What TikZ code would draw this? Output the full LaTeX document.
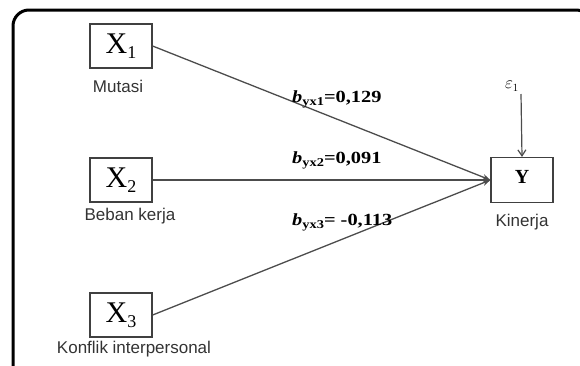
\documentclass[tikz,border=0pt]{standalone}
\usepackage{fontspec}
\setmainfont{Liberation Serif}
\newfontfamily\capfont{Liberation Sans}
\usetikzlibrary{arrows.meta}

\begin{document}
\begin{tikzpicture}[x=1pt,y=-1pt,
  var/.style={draw=black!75, line width=1.2pt, minimum width=62pt,
    minimum height=44pt, inner sep=0pt, fill=white},
  vcap/.style={font=\capfont\fontsize{17}{17}\selectfont, text=black!80, inner sep=0pt},
  coef/.style={font=\fontsize{17}{17}\selectfont\bfseries, inner sep=0pt, anchor=base west},
  link/.style={draw=black!70, line width=1.3pt, -{Stealth[length=8pt,width=6pt]}},
  errlink/.style={draw=black!70, line width=1.2pt, -{Straight Barb[length=6pt,width=8pt]}}]
\useasboundingbox (0,0) rectangle (580,365);
% outer frame
\draw[line width=3pt, rounded corners=16pt] (13,10) rectangle (592,380);

% exogenous variables
\node[var] (x1) at (121,46)  {\fontsize{30}{30}\selectfont X\raisebox{-5pt}{\fontsize{18}{18}\selectfont 1}};
\node[var] (x2) at (121,180) {\fontsize{30}{30}\selectfont X\raisebox{-5pt}{\fontsize{18}{18}\selectfont 2}};
\node[var] (x3) at (121,315) {\fontsize{30}{30}\selectfont X\raisebox{-5pt}{\fontsize{18}{18}\selectfont 3}};
\node[vcap] (l1) at (118,86)  {Mutasi};
\node[vcap] (l2) at (130,216) {Beban kerja};
\node[vcap] (l3) at (134,349) {Konflik interpersonal};

% endogenous variable
\node[var, minimum height=45pt] (y) at (522,180) {};
\node[inner sep=0pt] (ylab) at (522,177) {\fontsize{20}{20}\selectfont\bfseries Y};
\node[vcap] (ly) at (522,222) {Kinerja};
\node[inner sep=0pt] (eps) at (512,86) {\fontsize{16}{16}\selectfont$\varepsilon_1$};
\coordinate (e0) at (521,94);

% paths
\draw[link] (x1.east) -- (y.west);
\draw[link] (x2.east) -- (y.west);
\draw[link] (x3.east) -- (y.west);
\draw[errlink] (e0) -- (y.north);

% path coefficients
\node[coef] (c1) at (292,102) {\scalebox{1.2}[1]{\textit{b}\raisebox{-3pt}{\fontsize{12}{12}\selectfont yx1}=0,129}};
\node[coef] (c2) at (292,163) {\scalebox{1.2}[1]{\textit{b}\raisebox{-3pt}{\fontsize{12}{12}\selectfont yx2}=0,091}};
\node[coef] (c3) at (292,225) {\scalebox{1.2}[1]{\textit{b}\raisebox{-3pt}{\fontsize{12}{12}\selectfont yx3}= -0,113}};
\end{tikzpicture}
\end{document}
